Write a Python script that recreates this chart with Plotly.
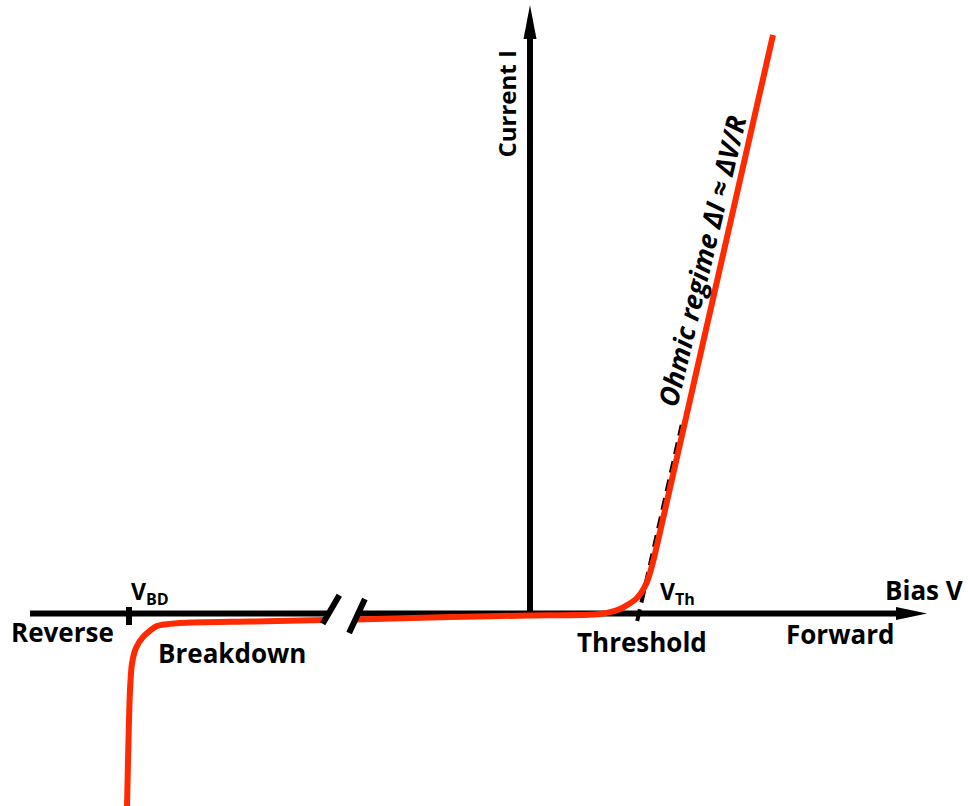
import plotly.graph_objects as go

# ---- I-V characteristic (bias V, current I), drawing units ----
# forward branch: from the axis break through the threshold knee into the ohmic regime
fwd_v = [-174, -80, 0, 70, 90, 107, 117, 123, 130, 170, 243]
fwd_i = [-6, -3.5, -2, -0.5, 4.5, 15.5, 31.5, 51.5, 81.5, 257.5, 578.5]

# reverse branch: from the axis break through the breakdown knee
rev_v = [-205, -280, -350, -373, -387, -394, -398, -400, -403]
rev_i = [-6.5, -8, -9.5, -12.5, -23.5, -34.5, -50, -76.5, -194.5]

# linear extrapolation of the ohmic regime down to the bias axis
ohm_v = [107.2, 151.7]
ohm_i = [-7.5, 188.5]

# characteristic voltages
V_BD = -401
V_TH = 109

# axis extents and the broken section of the bias axis
bias_axis_v = [-500, 368]
bias_break_v = [-201.6, -171.6]
current_axis_i = [0, 576.5]
bias_tip, current_tip = 397, 608.5

RED = "#ff2a00"
FONT = "Open Sans"

fig = go.Figure()

# bias axis (two segments around the break)
fig.add_trace(go.Scatter(x=[bias_axis_v[0], bias_break_v[0]], y=[0, 0], mode="lines",
                         line=dict(color="black", width=6), hoverinfo="skip"))
fig.add_trace(go.Scatter(x=[bias_break_v[1], bias_axis_v[1]], y=[0, 0], mode="lines",
                         line=dict(color="black", width=6), hoverinfo="skip"))
# current axis
fig.add_trace(go.Scatter(x=[0, 0], y=current_axis_i, mode="lines",
                         line=dict(color="black", width=6), hoverinfo="skip"))
# threshold extrapolation
fig.add_trace(go.Scatter(x=ohm_v, y=ohm_i, mode="lines",
                         line=dict(color="black", width=4, dash="12px,7px"), hoverinfo="skip"))
# I-V curve
fig.add_trace(go.Scatter(x=rev_v, y=rev_i, mode="lines",
                         line=dict(color=RED, width=6, shape="spline", smoothing=0.7),
                         hoverinfo="skip"))
fig.add_trace(go.Scatter(x=fwd_v, y=fwd_i, mode="lines",
                         line=dict(color=RED, width=6, shape="spline", smoothing=0.7),
                         hoverinfo="skip"))

shapes = []
# arrowheads
hw = 6.5
shapes.append(dict(type="path", xref="x", yref="y", fillcolor="black", line=dict(width=0),
                   path=f"M{bias_axis_v[1] - 2},{-hw} L{bias_tip},0 L{bias_axis_v[1] - 2},{hw} Z"))
shapes.append(dict(type="path", xref="x", yref="y", fillcolor="black", line=dict(width=0),
                   path=f"M{-hw},{current_axis_i[1] - 2} L0,{current_tip} L{hw},{current_axis_i[1] - 2} Z"))
# break marks
for bv, bi, half in [(-199, 4, (8.3, 14.2)), (-173, -2.5, (7.9, 17.0))]:
    shapes.append(dict(type="line", xref="x", yref="y",
                       x0=bv - half[0], y0=bi - half[1], x1=bv + half[0], y1=bi + half[1],
                       line=dict(color="black", width=6)))
# breakdown tick
shapes.append(dict(type="line", xref="x", yref="y", x0=V_BD, x1=V_BD, y0=-11.5, y1=6.5,
                   line=dict(color="black", width=6)))

fig.update_layout(shapes=shapes)


def label(text, x, y, size=26, angle=0):
    fig.add_annotation(x=x, y=y, xref="x", yref="y", text=text, showarrow=False,
                       textangle=angle, xanchor="center", yanchor="middle",
                       font=dict(family=FONT, size=size, color="black"))


label("<b>Current I</b>", -24, 509, size=24, angle=-90)
label("<b>Bias V</b>", 394, 23.5)
label("<b>Forward</b>", 310, -20)
label("<b>Reverse</b>", -468, -18)
label("<b>Breakdown</b>", -298, -39.5)
label("<b>Threshold</b>", V_TH + 3, -28.5)
label("<b>V<sub>BD</sub></b>", V_BD + 21, 21, size=23)
label("<b>V<sub>Th</sub></b>", V_TH + 38.5, 21, size=23)
label("<b><i>Ohmic regime ΔI ≈ ΔV/R</i></b>", 171.5, 352, size=27, angle=-76.5)

fig.update_layout(
    width=968, height=806,
    margin=dict(l=0, r=0, t=0, b=0),
    paper_bgcolor="white", plot_bgcolor="white",
    showlegend=False,
    xaxis=dict(range=[-530, 438], visible=False, fixedrange=True),
    yaxis=dict(range=[-192.5, 613.5], visible=False, fixedrange=True),
)

fig.write_html("out.html")
